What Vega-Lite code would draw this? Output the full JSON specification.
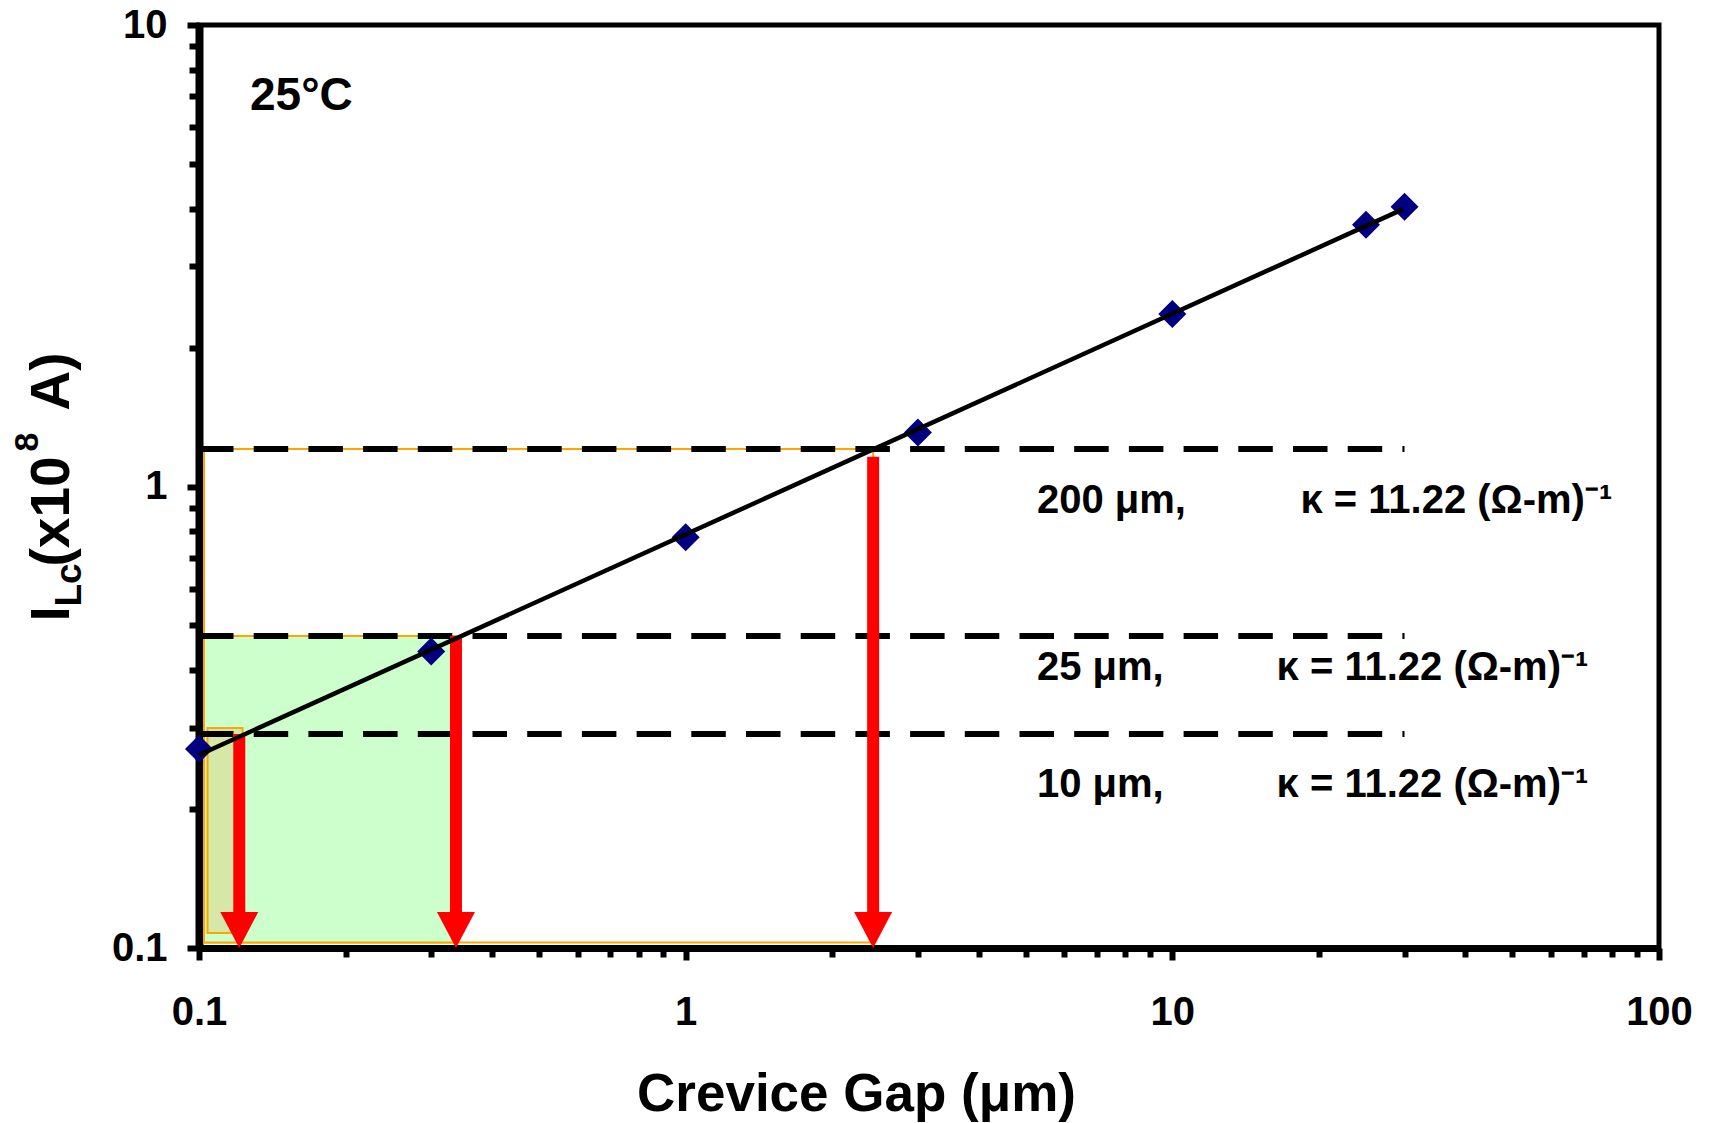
{
  "$schema": "https://vega.github.io/schema/vega-lite/v6.json",
  "width": 1460,
  "height": 923,
  "autosize": {"type": "none"},
  "padding": {"left": 199, "top": 25, "right": 50, "bottom": 175},
  "background": "white",
  "config": {
    "font": "Liberation Sans",
    "view": {"stroke": "black", "strokeWidth": 5},
    "axis": {
      "grid": false,
      "labelFont": "Liberation Sans",
      "titleFont": "Liberation Sans",
      "labelFontWeight": "bold",
      "titleFontWeight": "bold",
      "labelColor": "black",
      "titleColor": "black",
      "domainColor": "black",
      "tickColor": "black"
    }
  },
  "datasets": {
    "zones": [
      {"gap": "200 μm", "x0": 0.1024, "x1": 2.428, "y0": 0.1028, "y1": 1.206},
      {"gap": "25 μm", "x0": 0.1024, "x1": 0.3373, "y0": 0.1028, "y1": 0.4743},
      {"gap": "10 μm", "x0": 0.1041, "x1": 0.1229, "y0": 0.1078, "y1": 0.2996}
    ],
    "levels": [
      {"gap": "200 μm", "ilc": 1.206, "from": 0.1, "to": 30},
      {"gap": "25 μm", "ilc": 0.4743, "from": 0.1, "to": 30},
      {"gap": "10 μm", "ilc": 0.2909, "from": 0.1, "to": 30}
    ],
    "arrows": [
      {"gap": "10 μm", "x": 0.121, "top": 0.291, "base": 0.116, "tip": 0.1},
      {"gap": "25 μm", "x": 0.3373, "top": 0.4743, "base": 0.116, "tip": 0.1},
      {"gap": "200 μm", "x": 2.428, "top": 1.16, "base": 0.116, "tip": 0.1}
    ],
    "fit": [
      {"crevice": 0.1, "ilc": 0.262},
      {"crevice": 29.8, "ilc": 3.99}
    ],
    "measured": [
      {"crevice": 0.1, "ilc": 0.27},
      {"crevice": 0.3, "ilc": 0.439},
      {"crevice": 1, "ilc": 0.776},
      {"crevice": 3, "ilc": 1.31},
      {"crevice": 10, "ilc": 2.366},
      {"crevice": 25, "ilc": 3.69},
      {"crevice": 30, "ilc": 4.04}
    ],
    "notes": [
      {"text": "200 μm,", "x": 5.27, "y": 0.877},
      {"text": "κ = 11.22 (Ω-m)⁻¹", "x": 18.33, "y": 0.877},
      {"text": "25 μm,", "x": 5.27, "y": 0.3808},
      {"text": "κ = 11.22 (Ω-m)⁻¹", "x": 16.37, "y": 0.3808},
      {"text": "10 μm,", "x": 5.27, "y": 0.2128},
      {"text": "κ = 11.22 (Ω-m)⁻¹", "x": 16.37, "y": 0.2128}
    ],
    "temperature": [
      {"text": "25°C", "x": 0.1273, "y": 6.55}
    ]
  },
  "layer": [
    {
      "data": {"name": "zones"},
      "mark": {"type": "rect", "stroke": "#FFA500", "strokeWidth": 2},
      "encoding": {
        "x": {
          "field": "x0", "type": "quantitative",
          "scale": {"type": "log", "domain": [0.1, 100], "nice": false},
          "axis": {
            "orient": "bottom",
            "values": [0.1, 1, 10, 100],
            "format": "~g",
            "tickSize": 12, "tickWidth": 6, "domainWidth": 7,
            "labelFontSize": 40, "labelPadding": 32,
            "labelFlush": false, "labelOverlap": false, "labelBound": false,
            "title": "Crevice Gap (μm)",
            "titleFontSize": 53,
            "titleAlign": "center", "titleBaseline": "alphabetic",
            "titleX": 657, "titleY": 162
          }
        },
        "x2": {"field": "x1"},
        "y": {
          "field": "y0", "type": "quantitative",
          "scale": {"type": "log", "domain": [0.1, 10], "nice": false},
          "axis": {
            "orient": "left",
            "values": [0.1, 1, 10],
            "format": "~g",
            "tickSize": 12, "tickWidth": 6, "domainWidth": 8,
            "labelFontSize": 40, "labelPadding": 20,
            "labelFlush": false, "labelOverlap": false, "labelBound": false,
            "title": "I",
            "titleFontSize": 55, "titleAngle": 270,
            "titleAlign": "left", "titleBaseline": "alphabetic",
            "titleX": -131, "titleY": 596
          }
        },
        "y2": {"field": "y1"},
        "color": {
          "field": "gap", "type": "nominal",
          "scale": {"domain": ["200 μm", "25 μm", "10 μm"], "range": ["#FFFFFF", "#CCFFCC", "#D6E8A8"]},
          "legend": null
        }
      }
    },
    {
      "data": {"name": "levels"},
      "mark": {"type": "rule", "color": "black", "strokeWidth": 6, "strokeDash": [34.5, 20.2], "strokeCap": "butt"},
      "encoding": {
        "x": {
          "field": "from", "type": "quantitative",
          "scale": {"type": "log", "domain": [0.1, 100], "nice": false},
          "axis": {
            "orient": "bottom",
            "values": [0.2, 0.3, 0.4, 0.5, 0.6, 0.7, 0.8, 0.9, 2, 3, 4, 5, 6, 7, 8, 9, 20, 30, 40, 50, 60, 70, 80, 90],
            "tickSize": 9, "tickWidth": 6,
            "domain": false, "labels": false, "title": null
          }
        },
        "x2": {"field": "to"},
        "y": {
          "field": "ilc", "type": "quantitative",
          "scale": {"type": "log", "domain": [0.1, 10], "nice": false},
          "axis": {
            "orient": "left",
            "values": [0.2, 0.3, 0.4, 0.5, 0.6, 0.7, 0.8, 0.9, 2, 3, 4, 5, 6, 7, 8, 9],
            "tickSize": 10, "tickWidth": 6,
            "domain": false, "labels": false, "title": null
          }
        }
      }
    },
    {
      "data": {"name": "arrows"},
      "mark": {"type": "rule", "color": "#FF0000", "strokeWidth": 12, "strokeCap": "butt"},
      "encoding": {
        "x": {"field": "x", "type": "quantitative", "scale": {"type": "log", "domain": [0.1, 100], "nice": false}, "axis": null},
        "y": {
          "field": "top", "type": "quantitative",
          "scale": {"type": "log", "domain": [0.1, 10], "nice": false},
          "axis": {
            "orient": "left", "domain": false, "ticks": false, "labels": false,
            "title": "Lc",
            "titleFontSize": 37, "titleAngle": 270,
            "titleAlign": "left", "titleBaseline": "alphabetic",
            "titleX": -119, "titleY": 581
          }
        },
        "y2": {"field": "base"}
      }
    },
    {
      "data": {"name": "arrows"},
      "mark": {"type": "point", "shape": "M0,0L-1,-1.9L1,-1.9Z", "size": 1444, "filled": true, "color": "#FF0000", "opacity": 1, "strokeWidth": 0},
      "encoding": {
        "x": {"field": "x", "type": "quantitative", "scale": {"type": "log", "domain": [0.1, 100], "nice": false}, "axis": null},
        "y": {
          "field": "tip", "type": "quantitative",
          "scale": {"type": "log", "domain": [0.1, 10], "nice": false},
          "axis": {
            "orient": "left", "domain": false, "ticks": false, "labels": false,
            "title": "(x10",
            "titleFontSize": 55, "titleAngle": 270,
            "titleAlign": "left", "titleBaseline": "alphabetic",
            "titleX": -131, "titleY": 541
          }
        }
      }
    },
    {
      "data": {"name": "measured"},
      "mark": {"type": "point", "shape": "diamond", "size": 784, "filled": true, "color": "#000080", "opacity": 1, "strokeWidth": 0},
      "encoding": {
        "x": {"field": "crevice", "type": "quantitative", "scale": {"type": "log", "domain": [0.1, 100], "nice": false}, "axis": null},
        "y": {
          "field": "ilc", "type": "quantitative",
          "scale": {"type": "log", "domain": [0.1, 10], "nice": false},
          "axis": {
            "orient": "left", "domain": false, "ticks": false, "labels": false,
            "title": "8",
            "titleFontSize": 34, "titleAngle": 270,
            "titleAlign": "left", "titleBaseline": "alphabetic",
            "titleX": -162, "titleY": 426
          }
        }
      }
    },
    {
      "data": {"name": "fit"},
      "mark": {"type": "line", "color": "black", "strokeWidth": 4.5},
      "encoding": {
        "x": {"field": "crevice", "type": "quantitative", "scale": {"type": "log", "domain": [0.1, 100], "nice": false}, "axis": null},
        "y": {
          "field": "ilc", "type": "quantitative",
          "scale": {"type": "log", "domain": [0.1, 10], "nice": false},
          "axis": {
            "orient": "left", "domain": false, "ticks": false, "labels": false,
            "title": "A)",
            "titleFontSize": 55, "titleAngle": 270,
            "titleAlign": "left", "titleBaseline": "alphabetic",
            "titleX": -131, "titleY": 385
          }
        }
      }
    },
    {
      "data": {"name": "notes"},
      "mark": {"type": "text", "font": "Liberation Sans", "fontWeight": "bold", "fontSize": 40, "align": "left", "baseline": "alphabetic", "color": "black"},
      "encoding": {
        "x": {"field": "x", "type": "quantitative", "scale": {"type": "log", "domain": [0.1, 100], "nice": false}, "axis": null},
        "y": {"field": "y", "type": "quantitative", "scale": {"type": "log", "domain": [0.1, 10], "nice": false}, "axis": null},
        "text": {"field": "text"}
      }
    },
    {
      "data": {"name": "temperature"},
      "mark": {"type": "text", "font": "Liberation Sans", "fontWeight": "bold", "fontSize": 46, "align": "left", "baseline": "alphabetic", "color": "black"},
      "encoding": {
        "x": {"field": "x", "type": "quantitative", "scale": {"type": "log", "domain": [0.1, 100], "nice": false}, "axis": null},
        "y": {"field": "y", "type": "quantitative", "scale": {"type": "log", "domain": [0.1, 10], "nice": false}, "axis": null},
        "text": {"field": "text"}
      }
    }
  ],
  "resolve": {"axis": {"x": "independent", "y": "independent"}}
}
